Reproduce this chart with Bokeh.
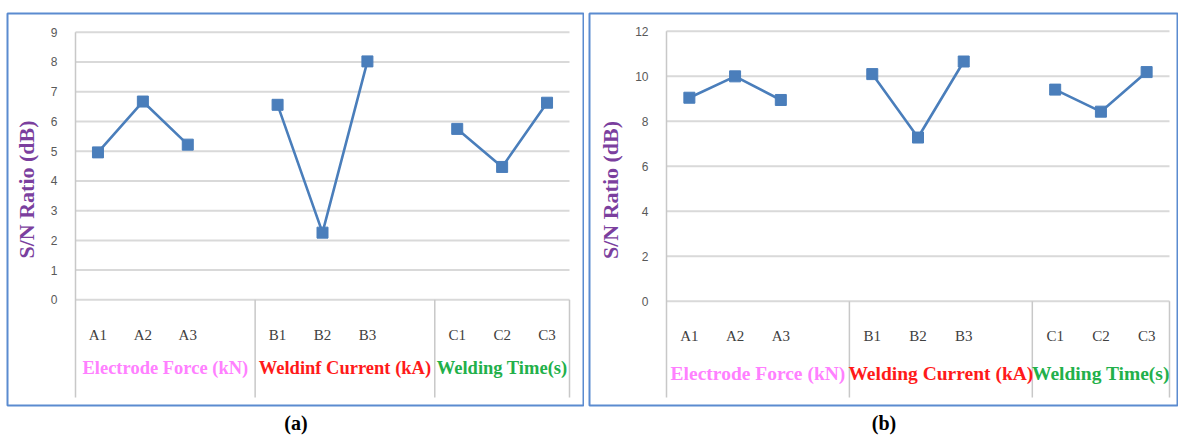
import numpy as np
from bokeh.plotting import figure
from bokeh.layouts import row
from bokeh.models import Range1d, FixedTicker, Label, Title
from bokeh.embed import file_html
from bokeh.resources import INLINE

# ---------------- data ----------------
categories = ["A1", "A2", "A3", "B1", "B2", "B3", "C1", "C2", "C3"]
category_group = [0, 0, 0, 1, 1, 1, 2, 2, 2]
groups_a = ["Electrode Force (kN)", "Weldinf Current (kA)", "Welding Time(s)"]
groups_b = ["Electrode Force (kN)", "Welding Current (kA)", "Welding Time(s)"]
group_colors = ["#ff80ff", "#ff1a1a", "#22b04a"]
values_a = [4.96, 6.67, 5.22, 6.56, 2.26, 8.02, 5.75, 4.47, 6.63]
values_b = [9.05, 10.0, 8.95, 10.1, 7.28, 10.66, 9.41, 8.43, 10.19]
yticks_a = [0, 1, 2, 3, 4, 5, 6, 7, 8, 9]
yticks_b = [0, 2, 4, 6, 8, 10, 12]
y_label = "S/N Ratio (dB)"
captions = ["(a)", "(b)"]

LINE_COLOR = "#4a7ebb"
SERIF = "Liberation Serif"
PAGE_H = 441

# slot positions: each group takes 4 slots (last one 3), gap slot between groups
n_groups = 3
group_sizes = [category_group.count(g) for g in range(n_groups)]
group_start = [sum(s + 1 for s in group_sizes[:g]) for g in range(n_groups)]
n_slots = group_start[-1] + group_sizes[-1]
x_pos = []
for g in range(n_groups):
    for j in range(group_sizes[g]):
        x_pos.append(group_start[g] + j + 0.5)
group_bounds = [(group_start[g], min(group_start[g] + group_sizes[g] + 1, n_slots)) for g in range(n_groups)]


def build(values, groups, yticks, caption, geo):
    fx, fw = geo["fig_x"], geo["fig_w"]
    fl, fr, ft, fb = geo["frame_l"], geo["frame_r"], geo["frame_t"], geo["frame_b"]
    pl, pr, y0px, ytpx = geo["plot_l"], geo["plot_r"], geo["y0"], geo["ytop"]
    ymax = yticks[-1]
    sw = (pr - pl) / n_slots
    ppu = (y0px - ytpx) / ymax
    xr = Range1d(-(pl - fl) / sw, n_slots + (fr - pr) / sw)
    yr = Range1d(-(fb - y0px) / ppu, ymax + (ytpx - ft) / ppu)
    p = figure(width=fw, height=PAGE_H, x_range=xr, y_range=yr,
               output_backend="svg", toolbar_location=None,
               min_border_left=fl - fx, min_border_right=fx + fw - fr,
               min_border_top=ft, min_border_bottom=PAGE_H - fb)
    p.outline_line_color = "#5b8bd0"
    p.outline_line_width = 2
    p.xgrid.visible = False
    p.ygrid.visible = False

    bottom_val = -(geo["lines_b"] - y0px) / ppu
    # horizontal grid lines
    p.segment(x0=[0] * len(yticks), x1=[n_slots] * len(yticks), y0=yticks, y1=yticks,
              line_color="#d9d9d9", line_width=2)
    # vertical lines of category table
    vx = [0] + [b[1] for b in group_bounds]
    vtop = [ymax] + [0] * n_groups
    p.segment(x0=vx, x1=vx, y0=vtop, y1=[bottom_val] * len(vx),
              line_color="#c8c8c8", line_width=1.5)

    # series lines per group
    xs, ys = [], []
    for g in range(n_groups):
        idx = [i for i, cg in enumerate(category_group) if cg == g]
        xs.append([x_pos[i] for i in idx])
        ys.append([values[i] for i in idx])
    p.multi_line(xs=xs, ys=ys, line_color=LINE_COLOR, line_width=2.6)
    p.scatter(x=x_pos, y=values, marker="square", size=11,
              fill_color=LINE_COLOR, line_color=LINE_COLOR)

    # x axis (categories)
    xa = p.xaxis[0]
    xa.fixed_location = 0
    xa.ticker = FixedTicker(ticks=x_pos, minor_ticks=[])
    xa.major_label_overrides = {x: c for x, c in zip(x_pos, categories)}
    xa.axis_line_color = None
    xa.major_tick_line_color = None
    xa.minor_tick_line_color = None
    xa.major_label_standoff = 21
    xa.major_label_text_font = SERIF
    xa.major_label_text_font_size = "15px"
    xa.major_label_text_color = "#404040"

    # y axis
    ya = p.yaxis[0]
    ya.fixed_location = 0
    ya.ticker = FixedTicker(ticks=yticks, minor_ticks=[])
    ya.axis_line_color = None
    ya.major_tick_line_color = None
    ya.minor_tick_line_color = None
    ya.major_label_standoff = 12
    ya.major_label_text_font = "Liberation Sans"
    ya.major_label_text_font_size = "12px"
    ya.major_label_text_color = "#595959"
    lc = (y0px - geo["ylab_c"]) / ppu
    ya.bounds = (2 * lc - ymax, ymax)
    ya.axis_label = y_label
    ya.axis_label_text_font = SERIF
    ya.axis_label_text_font_style = "bold"
    ya.axis_label_text_font_size = "22px"
    ya.axis_label_text_color = "#7b3f9e"
    ya.axis_label_standoff = 9

    # group labels
    gy = -(geo["glab_y"] - y0px) / ppu
    for g in range(n_groups):
        cx = (group_bounds[g][0] + group_bounds[g][1]) / 2
        p.add_layout(Label(x=cx, y=gy, text=groups[g], text_align="center",
                           text_baseline="middle", text_font=SERIF,
                           text_font_style="bold", text_font_size=geo["glab_size"],
                           text_color=group_colors[g]))
    # caption below the panel
    p.add_layout(Title(text=caption, align="center", standoff=8,
                       offset=geo["cap_off"],
                       text_font=SERIF, text_font_style="bold",
                       text_font_size="20px", text_color="black"), "below")
    return p


geo_a = dict(fig_x=0, fig_w=584, frame_l=7, frame_r=584, frame_t=13, frame_b=410,
             plot_l=75, plot_r=569, y0=303, ytop=32, lines_b=402, ylab_c=191, glab_y=372,
             glab_size="18.5px", cap_off=0)
geo_b = dict(fig_x=584, fig_w=594, frame_l=589, frame_r=1178, frame_t=10, frame_b=405,
             plot_l=666, plot_r=1169, y0=300, ytop=28, lines_b=397, ylab_c=188, glab_y=373,
             glab_size="19.5px", cap_off=-9)

pa = build(values_a, groups_a, yticks_a, captions[0], geo_a)
pb = build(values_b, groups_b, yticks_b, captions[1], geo_b)
layout = row(pa, pb)

open("out.html", "w").write(file_html(layout, INLINE))
